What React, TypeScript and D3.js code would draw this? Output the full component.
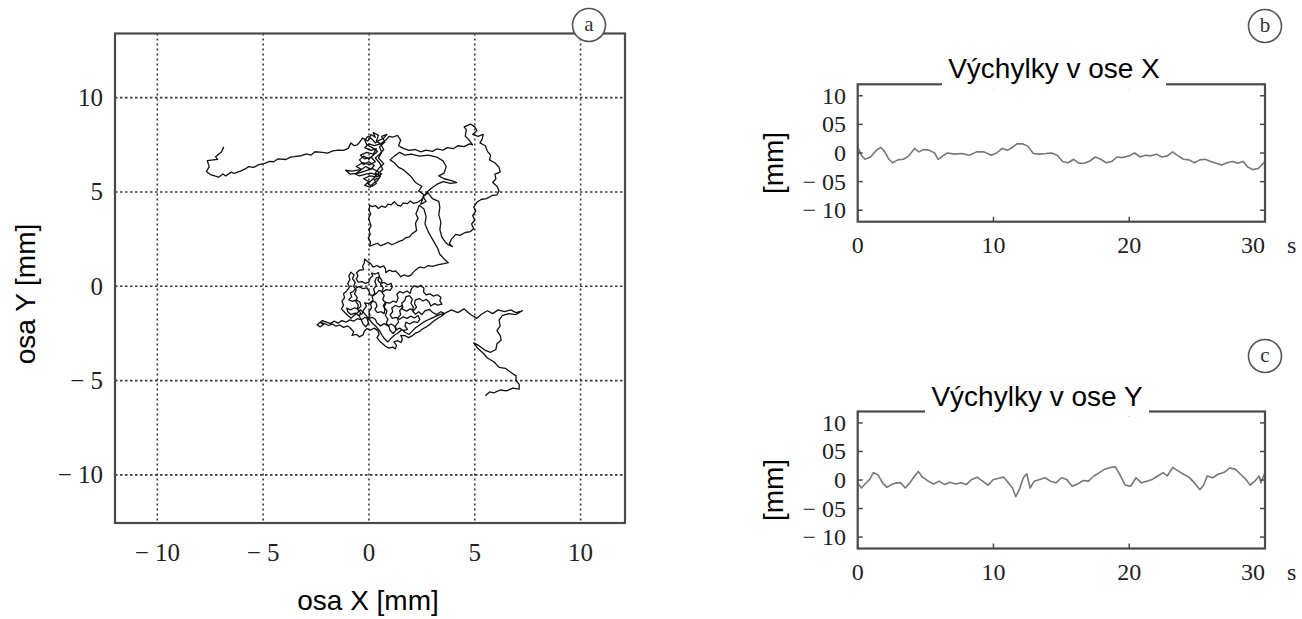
import * as d3 from "d3";

const W = 1302;
const H = 619;

const SERIF = "'Liberation Serif', 'Times New Roman', serif";
const SANS = "'Liberation Sans', Arial, sans-serif";

// ---- panel a: stabilogram (X, Y in mm) ----
const A_TICKS = [-10, -5, 0, 5, 10];
const A_TICK_LABELS = ["− 10", "− 5", "0", "5", "10"];

const TAIL = [
  [-6.86, 7.4], [-6.96, 7.13], [-7.25, 6.87], [-7.15, 6.73], [-7.64, 6.66],
  [-7.55, 6.34], [-7.68, 6.07], [-7.45, 5.9], [-7.1, 5.78], [-6.9, 5.95],
  [-6.77, 5.85], [-6.5, 6.05], [-6.37, 5.98], [-6.07, 6.1], [-5.85, 6.22],
  [-5.68, 6.34], [-5.45, 6.3], [-5.2, 6.45], [-4.95, 6.5], [-4.7, 6.62],
  [-4.5, 6.6], [-4.31, 6.75], [-3.92, 6.72], [-3.7, 6.85], [-3.53, 6.87],
  [-3.2, 6.92], [-2.94, 7.02], [-2.75, 6.95], [-2.55, 7.13], [-2.2, 7.1],
  [-1.96, 7.06], [-1.7, 7.18], [-1.47, 7.22], [-1.2, 7.2], [-0.98, 7.31],
  [-0.85, 7.6], [-0.7, 7.45], [-0.55, 7.5],
];

const UPPER_CLUSTER = [
  [-0.5, 7.55], [-0.3, 7.85], [-0.05, 7.7], [0.1, 8.05], [0.3, 7.9], [0.2, 8.15],
  [0.45, 8.0], [0.35, 7.7], [0.55, 7.55], [0.25, 7.45], [0.0, 7.55], [-0.2, 7.35],
  [0.1, 7.2], [0.35, 7.3], [0.2, 7.0], [-0.1, 7.1], [-0.4, 6.95], [-0.2, 6.75],
  [0.1, 6.85], [0.3, 6.6], [0.05, 6.45], [-0.3, 6.55], [-0.6, 6.35], [-0.35, 6.2],
  [-0.8, 6.1], [-1.1, 6.15], [-0.9, 5.95], [-0.5, 6.0], [-0.2, 6.1], [0.15, 6.25],
  [0.4, 6.1], [0.6, 5.95], [0.35, 5.8], [0.05, 5.85], [-0.25, 5.7], [0.0, 5.55],
  [-0.2, 5.35], [0.05, 5.25], [0.2, 5.45], [0.4, 5.6], [0.55, 5.85], [0.3, 6.0],
  [0.5, 6.3], [0.7, 6.5], [0.45, 6.8], [0.6, 7.1], [0.5, 7.4], [0.75, 7.65],
  [0.6, 7.95], [0.85, 8.05],
];

const UPPER_CLUSTER_2 = [
  [0.7, 7.85], [0.5, 7.75], [0.3, 7.6], [0.15, 7.8], [-0.05, 7.95], [-0.2, 7.75],
  [-0.1, 7.5], [0.15, 7.35], [0.4, 7.15], [0.2, 6.95], [0.0, 6.75], [-0.25, 6.9],
  [-0.45, 6.7], [-0.25, 6.45], [0.0, 6.6], [0.25, 6.4], [0.1, 6.2], [-0.15, 6.35],
  [-0.4, 6.15], [-0.65, 5.95], [-0.45, 5.85], [-0.15, 5.95], [0.1, 6.0], [0.35, 5.9],
  [0.2, 5.7], [-0.05, 5.45], [0.15, 5.3], [0.35, 5.45], [0.25, 5.65], [0.5, 5.75],
  [0.45, 6.0], [0.65, 6.2], [0.5, 6.55], [0.3, 6.8], [0.5, 7.0], [0.7, 7.25],
  [0.55, 7.55], [0.8, 7.75], [0.95, 7.95],
];

const TOP_LOOP = [
  [1.1, 7.9], [1.35, 8.0], [1.5, 7.75], [1.4, 7.45], [1.65, 7.3], [1.9, 7.2],
  [2.2, 7.25], [2.45, 7.12], [2.7, 7.22], [3.0, 7.15], [3.2, 7.28], [3.5, 7.22],
  [3.7, 7.35], [4.0, 7.3], [4.2, 7.45], [4.5, 7.4], [4.75, 7.55], [4.9, 7.5],
  [4.7, 7.8], [4.55, 7.95], [4.6, 8.3], [4.5, 8.45], [4.8, 8.6], [5.0, 8.45],
  [5.1, 8.25], [4.9, 8.05], [5.15, 7.95], [5.4, 8.05], [5.35, 7.8], [5.25, 7.6],
  [5.5, 7.45], [5.6, 7.15], [5.75, 6.95], [5.7, 6.7], [5.95, 6.55], [6.15, 6.3],
  [6.2, 6.05], [5.95, 5.95], [6.0, 5.7], [5.85, 5.5], [6.05, 5.3], [6.15, 5.05],
  [6.05, 4.85], [5.8, 4.8], [5.55, 4.65], [5.3, 4.6], [5.1, 4.45], [4.95, 4.2],
  [5.05, 4.0], [4.9, 3.75], [5.0, 3.5], [4.85, 3.3], [4.95, 3.05], [4.8, 2.9],
  [4.55, 2.85], [4.3, 2.7], [4.1, 2.75], [3.9, 2.5], [3.8, 2.25], [3.95, 2.1],
  [3.75, 2.2], [3.6, 2.35],
];

const MIDDLE = [
  [3.45, 2.6], [3.35, 3.0], [3.4, 3.4], [3.3, 3.8], [3.35, 4.2], [3.3, 4.5],
  [3.0, 4.65], [2.8, 4.95], [2.55, 4.75], [2.7, 4.5], [2.45, 4.35], [2.6, 4.85],
  [2.35, 5.05], [2.5, 5.3], [2.2, 5.5], [2.0, 5.8], [1.8, 6.0], [1.6, 6.2],
  [1.4, 6.3], [1.2, 6.55], [1.0, 6.7], [1.2, 6.9], [1.45, 7.1], [1.7, 6.95],
  [2.0, 7.0], [2.4, 6.9], [2.8, 6.95], [3.2, 6.85], [3.5, 6.65], [3.65, 6.35],
  [3.55, 6.0], [3.3, 5.85], [3.55, 5.7], [3.9, 5.6], [4.15, 5.5], [3.85, 5.45],
  [3.5, 5.55], [3.2, 5.4], [2.95, 5.2], [2.75, 5.0], [2.5, 4.6], [2.3, 4.45],
  [2.1, 4.4], [1.95, 4.52], [1.82, 4.38], [1.62, 4.42], [1.5, 4.25], [1.35, 4.3],
  [1.2, 4.48], [1.05, 4.32], [0.9, 4.35], [0.78, 4.18], [0.6, 4.25], [0.45, 4.12],
  [0.3, 4.28], [0.15, 4.22], [0.05, 4.3], [0.0, 4.05], [0.08, 3.85], [-0.02, 3.6],
  [0.05, 3.38], [0.1, 3.2], [0.0, 3.0], [0.06, 2.75], [-0.03, 2.55], [0.07, 2.35],
  [0.04, 2.12], [0.2, 2.2], [0.4, 2.28], [0.55, 2.15], [0.72, 2.22], [0.9, 2.32],
  [1.08, 2.2], [1.25, 2.28], [1.42, 2.38], [1.6, 2.45], [1.75, 2.58], [1.92, 2.62],
  [2.05, 2.8], [2.25, 2.95], [2.2, 3.35], [2.32, 3.6], [2.22, 3.85], [2.3, 4.05],
  [2.38, 4.3], [2.6, 4.1], [2.7, 3.7], [2.65, 3.3], [2.8, 2.9], [2.95, 2.6],
  [3.1, 2.3], [3.25, 2.0], [3.35, 1.7], [3.55, 1.45], [3.75, 1.25], [3.55, 1.2],
  [3.3, 1.15], [3.0, 1.05],
];

const LOWER_CLUSTER = [
  [2.8, 1.1], [2.62, 0.98], [2.4, 1.02], [2.25, 0.9], [2.1, 0.75], [2.0, 0.6],
  [1.85, 0.52], [1.65, 0.6], [1.5, 0.5], [1.38, 0.68], [1.25, 0.82], [1.15, 0.78],
  [0.95, 0.85], [0.8, 0.72], [0.78, 0.92], [0.7, 1.08], [0.52, 1.0], [0.38, 1.1],
  [0.2, 1.02], [0.08, 1.2], [-0.08, 1.32], [-0.2, 1.45], [-0.22, 1.25], [-0.3, 1.05],
  [-0.25, 0.88], [-0.45, 0.85], [-0.58, 0.72], [-0.52, 0.55], [-0.6, 0.38], [-0.5, 0.22],
  [-0.32, 0.25], [-0.18, 0.15], [0.0, 0.22], [0.05, 0.42], [0.18, 0.55], [0.12, 0.7],
  [0.3, 0.65], [0.45, 0.72], [0.5, 0.5], [0.42, 0.32], [0.55, 0.15], [0.72, 0.2],
  [0.88, 0.08], [1.05, 0.15], [1.1, -0.05], [1.0, -0.22], [0.82, -0.18], [0.65, -0.3],
  [0.48, -0.22], [0.35, -0.38], [0.2, -0.5], [0.05, -0.45], [0.0, -0.25], [-0.1, -0.08],
  [-0.3, -0.12], [-0.45, -0.02], [-0.62, -0.1], [-0.75, -0.28], [-0.88, -0.35], [-0.82, -0.55],
  [-0.95, -0.72], [-0.78, -0.8], [-0.6, -0.72], [-0.42, -0.85], [-0.38, -1.05], [-0.5, -1.2],
  [-0.7, -1.15], [-0.88, -1.25], [-1.05, -1.15], [-1.0, -1.35], [-0.85, -1.5], [-0.65, -1.42],
  [-0.5, -1.55], [-0.32, -1.45], [-0.25, -1.25], [-0.12, -1.05], [-0.2, -0.88], [0.0, -0.92],
  [0.15, -0.78], [0.32, -0.85], [0.38, -1.05], [0.28, -1.22], [0.4, -1.4], [0.58, -1.35],
  [0.72, -1.45], [0.75, -1.22], [0.68, -1.02], [0.8, -0.85], [0.98, -0.9], [1.15, -0.78],
  [1.3, -0.85], [1.38, -0.62], [1.32, -0.42], [1.45, -0.28], [1.62, -0.35], [1.8, -0.25],
  [1.95, -0.38], [2.0, -0.15], [2.12, 0.02], [2.3, -0.05], [2.45, 0.05], [2.6, -0.1],
  [2.58, -0.3], [2.7, -0.45], [2.88, -0.4], [3.05, -0.52], [3.22, -0.45], [3.4, -0.58],
  [3.35, -0.78], [3.45, -0.95], [3.25, -1.0], [3.1, -0.92], [2.92, -1.05], [2.85, -0.85],
  [2.72, -0.7], [2.55, -0.78], [2.38, -0.65], [2.2, -0.72], [2.15, -0.92], [2.25, -1.1],
  [2.12, -1.28], [1.95, -1.2], [1.78, -1.32], [1.6, -1.22], [1.55, -1.02], [1.42, -1.1],
  [1.25, -1.02], [1.08, -1.15], [1.12, -1.35], [1.0, -1.52], [1.1, -1.7], [1.28, -1.65],
  [1.45, -1.75], [1.62, -1.62], [1.8, -1.7], [1.98, -1.58], [2.15, -1.68], [2.32, -1.55],
  [2.4, -1.75], [2.3, -1.92], [2.1, -1.88], [1.92, -2.0], [1.75, -1.9], [1.7, -2.1],
  [1.82, -2.28], [1.62, -2.35], [1.45, -2.22], [1.28, -2.32], [1.22, -2.12], [1.05, -2.0],
  [0.9, -2.1], [0.72, -1.98], [0.55, -2.1], [0.38, -1.95], [0.3, -1.75], [0.15, -1.65],
  [-0.02, -1.72], [-0.2, -1.65], [-0.35, -1.78], [-0.55, -1.72], [-0.72, -1.85], [-0.9, -1.78],
  [-1.08, -1.9], [-1.28, -1.82], [-1.45, -1.95], [-1.65, -1.85], [-1.82, -1.98], [-2.0, -1.9],
  [-2.2, -1.82], [-2.35, -1.95], [-2.45, -2.05], [-2.3, -2.15], [-2.15, -2.02], [-2.3, -1.9],
  [-2.1, -1.98], [-1.9, -2.08], [-1.72, -2.0], [-1.55, -2.12], [-1.38, -2.05], [-1.2, -2.18],
  [-1.0, -2.1], [-0.85, -2.25], [-0.72, -2.42], [-0.8, -2.6], [-0.6, -2.55], [-0.45, -2.68],
  [-0.28, -2.58], [-0.22, -2.38], [-0.1, -2.25], [0.08, -2.32], [0.25, -2.22], [0.42, -2.35],
  [0.48, -2.55], [0.38, -2.72], [0.5, -2.9], [0.65, -3.05], [0.78, -3.18], [0.95, -3.28],
  [1.12, -3.22], [1.25, -3.32], [1.3, -3.12], [1.18, -2.95], [1.35, -2.88], [1.52, -2.98],
  [1.58, -2.78], [1.5, -2.6], [1.7, -2.62], [1.88, -2.72], [2.05, -2.62], [2.2, -2.48],
  [2.38, -2.4], [2.55, -2.25], [2.72, -2.15], [2.9, -2.0], [3.05, -1.85], [3.22, -1.72],
  [3.4, -1.6], [3.58, -1.45],
];

const LOWER_CLUSTER_2 = [
  [3.4, -1.35], [3.2, -1.5], [3.0, -1.38], [2.85, -1.22], [2.65, -1.3], [2.5, -1.5],
  [2.35, -1.35], [2.2, -1.48], [2.05, -1.3], [2.1, -1.1], [1.98, -0.9], [2.05, -0.7],
  [1.92, -0.5], [1.75, -0.55], [1.7, -0.75], [1.55, -0.9], [1.6, -1.1], [1.45, -1.3],
  [1.5, -1.5], [1.35, -1.7], [1.4, -1.9], [1.25, -2.1], [1.3, -2.3], [1.15, -2.5],
  [1.0, -2.35], [0.95, -2.15], [0.82, -1.95], [0.9, -1.75], [0.78, -1.55], [0.85, -1.3],
  [0.72, -1.1], [0.8, -0.9], [0.65, -0.7], [0.72, -0.5], [0.6, -0.3], [0.68, -0.1],
  [0.55, 0.1], [0.62, 0.3], [0.5, 0.5], [0.35, 0.45], [0.28, 0.25], [0.35, 0.05],
  [0.22, -0.15], [0.28, -0.35], [0.15, -0.55], [0.2, -0.75], [0.08, -0.95], [0.12, -1.15],
  [0.0, -1.35], [0.05, -1.55], [-0.08, -1.75], [-0.02, -1.95], [-0.15, -2.15], [-0.28, -2.0],
  [-0.35, -1.8], [-0.45, -1.6], [-0.4, -1.4], [-0.55, -1.2], [-0.5, -1.0], [-0.62, -0.8],
  [-0.55, -0.6], [-0.68, -0.4], [-0.6, -0.2], [-0.72, 0.0], [-0.65, 0.2], [-0.78, 0.4],
  [-0.7, 0.6], [-0.85, 0.75], [-0.95, 0.55], [-0.9, 0.35], [-1.0, 0.15], [-0.92, -0.05],
  [-1.05, -0.25], [-1.2, -0.4], [-1.15, -0.6], [-1.28, -0.8], [-1.2, -1.0], [-1.3, -1.2],
  [-1.15, -1.38], [-1.0, -1.55], [-0.85, -1.7], [-0.7, -1.55], [-0.55, -1.4], [-0.4, -1.25],
  [-0.25, -1.4], [-0.1, -1.6], [0.05, -1.8], [0.2, -2.0], [0.35, -2.15], [0.5, -2.35],
  [0.62, -2.6], [0.75, -2.8], [0.9, -2.95], [1.05, -2.75], [1.2, -2.6], [1.4, -2.45],
  [1.55, -2.3], [1.72, -2.45], [1.9, -2.55], [2.05, -2.38], [2.2, -2.2], [2.4, -2.05],
  [2.58, -1.9], [2.75, -1.8], [2.95, -1.7], [3.15, -1.6], [3.35, -1.5], [3.6, -1.42],
];

const RIGHT_ARM = [
  [3.9, -1.25], [4.2, -1.4], [4.5, -1.2], [4.8, -1.5], [5.1, -1.7], [5.3, -1.5],
  [5.6, -1.3], [5.85, -1.45], [6.1, -1.25], [6.4, -1.35], [6.7, -1.25], [6.95, -1.4],
  [7.25, -1.3], [6.95, -1.5], [6.6, -1.45], [6.3, -1.55], [6.15, -1.8], [6.2, -2.1],
  [6.05, -2.35], [6.2, -2.6], [6.25, -2.85], [6.05, -3.05], [6.0, -3.35], [5.75, -3.5],
  [5.5, -3.4], [5.2, -3.15], [4.95, -3.0], [5.15, -3.3], [5.4, -3.55], [5.6, -3.8],
  [5.9, -4.0], [6.15, -4.3], [6.45, -4.35], [6.75, -4.6], [6.95, -4.75], [6.95, -5.0],
  [7.1, -5.2], [7.1, -5.45], [6.8, -5.4], [6.5, -5.55], [6.2, -5.5], [5.9, -5.65],
  [5.7, -5.6], [5.5, -5.8],
];

const TRAJECTORY = [
  ...TAIL, ...UPPER_CLUSTER, ...UPPER_CLUSTER_2, ...TOP_LOOP, ...MIDDLE,
  ...LOWER_CLUSTER, ...LOWER_CLUSTER_2, ...RIGHT_ARM,
];

// ---- panels b, c: sway over time ----
const T_TICKS = [0, 10, 20, 30];
const T_TICK_LABELS = ["0", "10", "20", "30"];
const D_TICKS = [10, 5, 0, -5, -10];
const D_TICK_LABELS = ["10", "05", "0", "− 05", "− 10"];

const X_TIMES = [
  0, 0.27, 0.54, 0.94, 1.35, 1.7, 2.0, 2.3, 2.56, 2.96, 3.37, 3.77, 4.18, 4.5,
  4.85, 5.26, 5.66, 5.93, 6.33, 6.6, 7.14, 7.68, 8.22, 8.76, 9.3, 9.84, 10.24,
  10.65, 11.05, 11.46, 11.72, 12.13, 12.53, 12.94, 13.34, 13.88, 14.29, 14.69,
  15.1, 15.5, 15.9, 16.3, 16.7, 17.1, 17.5, 17.9, 18.3, 18.7, 19.1, 19.5, 20.0,
  20.4, 20.8, 21.2, 21.6, 22.0, 22.4, 22.8, 23.2, 23.6, 24.0, 24.4, 24.8, 25.2,
  25.6, 26.0, 26.4, 26.8, 27.2, 27.6, 28.0, 28.4, 28.7, 29.1, 29.5, 30,
];
const X_SWAY = [
  1.1, -0.4, -1.1, -0.7, 0.4, 1.0, 0.2, -1.1, -1.7, -1.2, -1.1, -0.5, 0.8, 0.2,
  0.6, 0.5, 0.0, -1.1, -0.4, 0.0, -0.2, -0.1, -0.4, 0.2, 0.2, -0.4, 0.0,
  0.8, 0.5, 1.1, 1.6, 1.6, 1.2, -0.1, -0.2, -0.1, 0.0, -0.4,
  -1.5, -1.7, -1.1, -1.8, -1.8, -1.4, -0.7, -1.1, -1.7, -1.5, -0.7, -0.8, -0.5,
  0.0, -0.7, -0.4, -0.5, -0.2, -0.7, -0.5, 0.2, -0.5, -1.1, -1.2, -1.7, -1.2,
  -1.1, -1.5, -1.8, -2.1, -1.7, -1.5, -1.8, -1.5, -2.4, -2.9, -2.7, -1.5,
];

const Y_TIMES = [
  0, 0.27, 0.54, 0.89, 1.16, 1.5, 1.83, 2.15, 2.5, 2.85, 3.17, 3.5, 3.84, 4.1,
  4.46, 4.78, 5.19, 5.6, 6.0, 6.4, 6.8, 7.2, 7.6, 8.0, 8.4, 8.8, 9.2, 9.6, 10.0,
  10.4, 10.75, 11.1, 11.4, 11.64, 11.9, 12.2, 12.45, 12.7, 13.0, 13.4, 13.8,
  14.2, 14.6, 15.0, 15.4, 15.8, 16.2, 16.6, 17.0, 17.4, 17.8, 18.2, 18.6, 18.98,
  19.3, 19.7, 20.1, 20.5, 20.9, 21.3, 21.7, 22.1, 22.5, 22.8, 23.2, 23.6, 24.0,
  24.4, 24.8, 25.2, 25.5, 25.75, 26.15, 26.55, 26.96, 27.4, 27.8, 28.2, 28.6,
  28.9, 29.25, 29.57, 29.7, 30,
];
const Y_SWAY = [
  -0.5, -1.4, -0.7, 0.1, 1.3, 0.9, -0.5, -1.3, -0.8, -0.5, -0.5, -1.4, -0.5, 0.4,
  1.5, 0.5, -0.2, -0.7, -0.2, -0.8, -0.4, -0.7, -0.5, -0.8, 0.1, 0.5, -0.2, -0.9, 0.1,
  0.3, 0.5, -0.5, -1.4, -2.9, -1.7, 0.4, 1.1, -1.4, -0.2, 0.1, 0.4,
  -0.2, -0.5, 0.4, 0.1, -1.1, -0.7, -0.1, -0.2, 0.7, 1.3, 1.9, 2.2, 2.3,
  1.0, -0.9, -1.1, 0.4, -0.5, -0.2, 0.1, 0.7, 1.3, 0.7, 2.2, 1.6, 1.0,
  0.5, -0.5, -1.7, -0.8, 0.7, 0.4, 1.0, 1.3, 2.1, 1.9, 1.0, 0.1,
  -0.9, -0.2, 0.7, -0.5, 1.3,
];

// ---- layout ----
const A_BOX = { left: 115, right: 625, top: 33.5, bottom: 523 };
const B_BOX = { left: 857.7, right: 1265, top: 84.3, bottom: 221.7 };
const C_BOX = { left: 857.7, right: 1265, top: 411.5, bottom: 548.5 };

const FRAME = "#4a4a4a";
const GRID = "#3a3a3a";
const LABEL = "#222";

function Badge({ x, y, letter }: { x: number; y: number; letter: string }) {
  return (
    <g>
      <circle cx={x} cy={y} r={16.5} fill="#fff" stroke="#555" strokeWidth={1.6} />
      <text x={x} y={y + 6} textAnchor="middle" fontFamily={SERIF} fontSize={21} fill="#333">
        {letter}
      </text>
    </g>
  );
}

function StabilogramPanel() {
  const x = d3.scaleLinear().domain([-12, 12.1]).range([A_BOX.left, A_BOX.right]);
  const y = d3.scaleLinear().domain([-12.55, 13.4]).range([A_BOX.bottom, A_BOX.top]);
  const line = d3
    .line<number[]>()
    .x((d) => x(d[0]))
    .y((d) => y(d[1]));

  return (
    <g>
      {/* dotted grid */}
      {A_TICKS.map((t) => (
        <line
          key={"gv" + t}
          x1={x(t)}
          x2={x(t)}
          y1={A_BOX.top}
          y2={A_BOX.bottom}
          stroke={GRID}
          strokeWidth={1.6}
          strokeDasharray="2 3"
        />
      ))}
      {A_TICKS.map((t) => (
        <line
          key={"gh" + t}
          x1={A_BOX.left}
          x2={A_BOX.right}
          y1={y(t)}
          y2={y(t)}
          stroke={GRID}
          strokeWidth={1.6}
          strokeDasharray="2.5 2.5"
        />
      ))}

      <path d={line(TRAJECTORY) ?? ""} fill="none" stroke="#111" strokeWidth={1.3} strokeLinejoin="round" />

      <rect
        x={A_BOX.left}
        y={A_BOX.top}
        width={A_BOX.right - A_BOX.left}
        height={A_BOX.bottom - A_BOX.top}
        fill="none"
        stroke={FRAME}
        strokeWidth={2.2}
      />

      {/* tick labels */}
      {A_TICKS.map((t, i) => (
        <text key={"xl" + t} x={x(t)} y={560.5} textAnchor="middle" fontFamily={SERIF} fontSize={25} fill={LABEL}>
          {A_TICK_LABELS[i]}
        </text>
      ))}
      {A_TICKS.map((t, i) => (
        <text key={"yl" + t} x={103} y={y(t) + 8.5} textAnchor="end" fontFamily={SERIF} fontSize={25} fill={LABEL}>
          {A_TICK_LABELS[i]}
        </text>
      ))}

      <text x={368} y={610} textAnchor="middle" fontFamily={SANS} fontSize={28} fill="#000">
        osa X [mm]
      </text>
      <text transform="translate(35,294) rotate(-90)" textAnchor="middle" fontFamily={SANS} fontSize={28} fill="#000">
        osa Y [mm]
      </text>

      <Badge x={589} y={25} letter="a" />
    </g>
  );
}

function SwayPanel({
  box,
  times,
  values,
  title,
  titleX,
  letter,
  badgeY,
}: {
  box: { left: number; right: number; top: number; bottom: number };
  times: number[];
  values: number[];
  title: string;
  titleX: number;
  letter: string;
  badgeY: number;
}) {
  const x = d3.scaleLinear().domain([0, 30]).range([box.left, box.right]);
  const y = d3.scaleLinear().domain([-12, 12]).range([box.bottom, box.top]);
  const line = d3
    .line<number>()
    .x((_, i) => x(times[i]))
    .y((d) => y(d));
  const tick = 5;

  return (
    <g>
      <path d={line(values) ?? ""} fill="none" stroke="#777" strokeWidth={1.6} strokeLinejoin="round" />

      {D_TICKS.map((t) => (
        <g key={"yt" + t}>
          <line x1={box.left} x2={box.left + tick} y1={y(t)} y2={y(t)} stroke={FRAME} strokeWidth={1.5} />
          <line x1={box.right} x2={box.right - tick} y1={y(t)} y2={y(t)} stroke={FRAME} strokeWidth={1.5} />
        </g>
      ))}
      {T_TICKS.map((t) => (
        <g key={"xt" + t}>
          <line x1={x(t)} x2={x(t)} y1={box.bottom} y2={box.bottom - tick} stroke={FRAME} strokeWidth={1.5} />
          <line x1={x(t)} x2={x(t)} y1={box.top} y2={box.top + tick} stroke={FRAME} strokeWidth={1.5} />
        </g>
      ))}

      <rect
        x={box.left}
        y={box.top}
        width={box.right - box.left}
        height={box.bottom - box.top}
        fill="none"
        stroke={FRAME}
        strokeWidth={2.2}
      />

      {D_TICKS.map((t, i) => (
        <text key={"yl" + t} x={846} y={y(t) + 8} textAnchor="end" fontFamily={SERIF} fontSize={24} fill={LABEL}>
          {D_TICK_LABELS[i]}
        </text>
      ))}
      {T_TICKS.map((t, i) => (
        <text
          key={"xl" + t}
          x={x(t) + (i === T_TICKS.length - 1 ? -12 : 0)}
          y={box.bottom + 31.5}
          textAnchor="middle"
          fontFamily={SERIF}
          fontSize={24}
          fill={LABEL}
        >
          {T_TICK_LABELS[i]}
        </text>
      ))}
      <text x={box.right + 22} y={box.bottom + 31.5} fontFamily={SERIF} fontSize={24} fill={LABEL}>
        s
      </text>

      {/* title sits on a white patch over the top frame */}
      <rect x={titleX - 112} y={box.top - 36} width={224} height={41} fill="#fff" />
      <text x={titleX} y={box.top - 6} textAnchor="middle" fontFamily={SANS} fontSize={28} fill="#000">
        {title}
      </text>

      <text
        transform={`translate(783,${(box.top + box.bottom) / 2 + 10}) rotate(-90)`}
        textAnchor="middle"
        fontFamily={SANS}
        fontSize={28}
        fill="#000"
      >
        [mm]
      </text>

      <Badge x={1265} y={badgeY} letter={letter} />
    </g>
  );
}

export default function App() {
  return (
    <svg
      width={W}
      height={H}
      viewBox={`0 0 ${W} ${H}`}
      style={{ position: "absolute", left: 0, top: 0, background: "#fff" }}
    >
      <rect width={W} height={H} fill="#fff" />
      <StabilogramPanel />
      <SwayPanel
        box={B_BOX}
        times={X_TIMES}
        values={X_SWAY}
        title="Výchylky v ose X"
        titleX={1054}
        letter="b"
        badgeY={26}
      />
      <SwayPanel
        box={C_BOX}
        times={Y_TIMES}
        values={Y_SWAY}
        title="Výchylky v ose Y"
        titleX={1037}
        letter="c"
        badgeY={356}
      />
    </svg>
  );
}
